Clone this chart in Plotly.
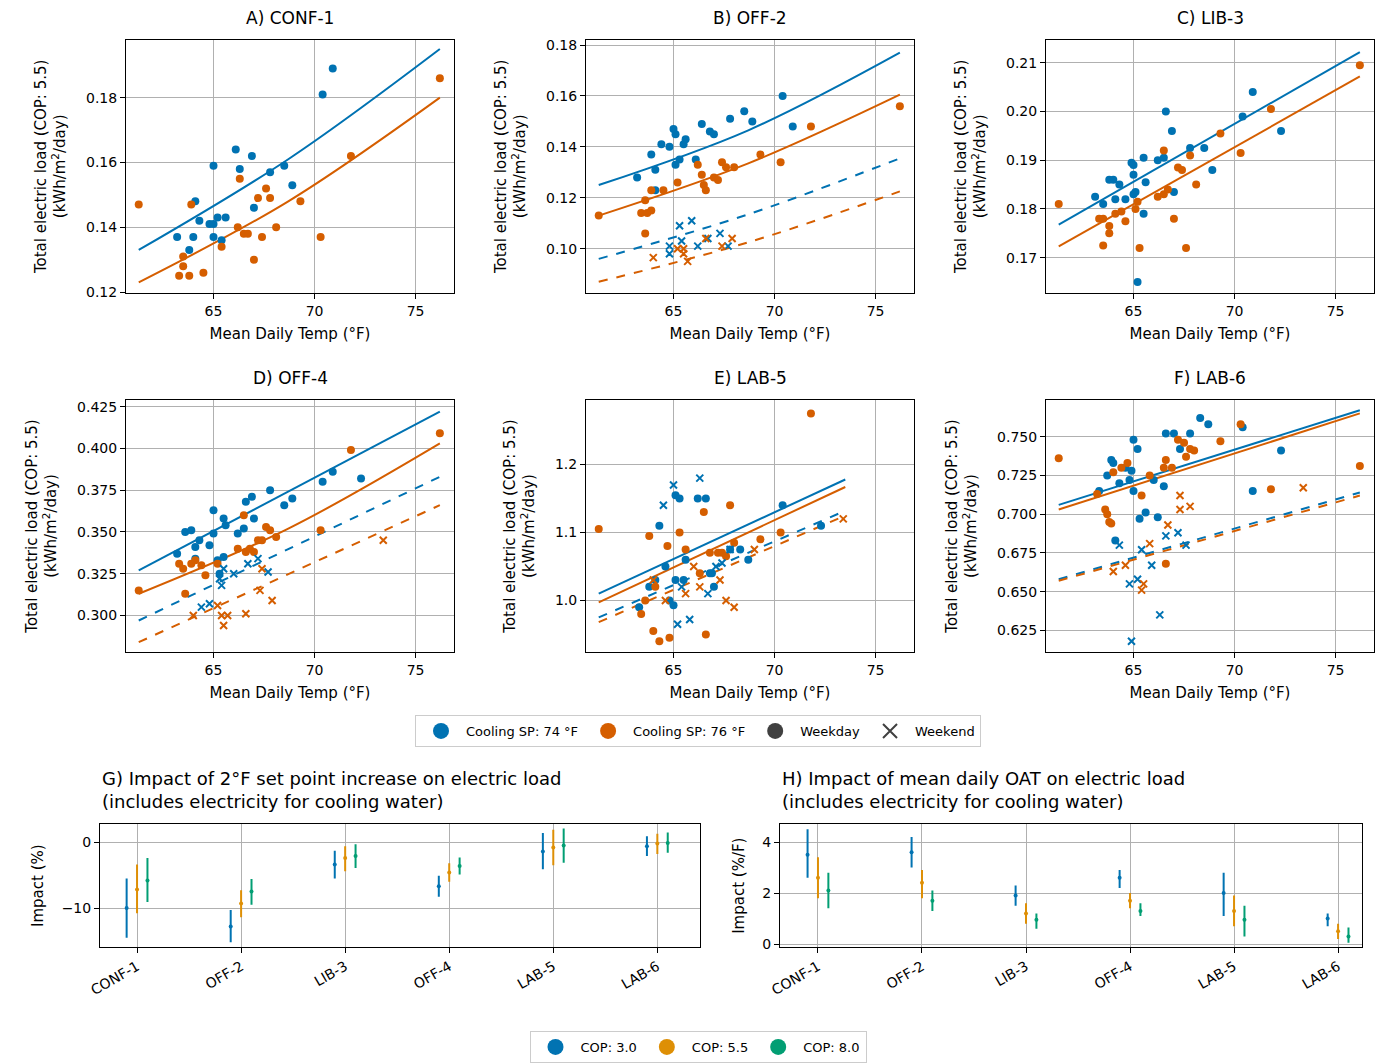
import plotly.graph_objects as go

W, H = 1384, 1063
BLUE, ORANGE = "#0072B2", "#D55E00"
COPC = ["#0173B2", "#DE8F05", "#029E73"]

# ---------------- data ----------------
A_b = [(63.2,0.137),(63.8,0.133),(64.0,0.137),(64.1,0.148),(64.3,0.142),(64.8,0.141),(65.0,0.141),(65.0,0.159),(65.0,0.137),(65.2,0.143),(65.4,0.136),(65.6,0.143),(66.1,0.164),(66.3,0.158),(66.9,0.162),(67.0,0.146),(67.8,0.157),(68.5,0.159),(68.9,0.153),(70.4,0.181),(70.9,0.189)]
A_o = [(61.3,0.147),(63.3,0.125),(63.5,0.128),(63.5,0.131),(63.9,0.147),(63.8,0.125),(64.5,0.126),(65.4,0.134),(66.2,0.140),(66.3,0.155),(66.5,0.138),(66.7,0.138),(67.0,0.130),(67.2,0.149),(67.4,0.137),(67.6,0.152),(67.8,0.149),(68.1,0.140),(69.3,0.148),(70.3,0.137),(71.8,0.162),(76.2,0.186)]
A_lines = {"b": [(61.3,0.133),(68.7,0.161),(76.2,0.195)], "o": [(61.3,0.123),(68.7,0.148),(76.2,0.180)]}

B_b = [(63.2,0.128),(63.9,0.137),(64.1,0.123),(64.4,0.141),(64.1,0.131),(64.8,0.140),(65.0,0.147),(65.1,0.145),(65.1,0.133),(65.3,0.135),(65.5,0.141),(65.6,0.143),(66.1,0.135),(66.4,0.149),(66.8,0.146),(67.0,0.145),(67.8,0.151),(68.5,0.154),(68.9,0.150),(70.4,0.160),(70.9,0.148)]
B_o = [(61.3,0.113),(63.4,0.114),(63.6,0.106),(63.7,0.114),(63.6,0.119),(63.9,0.115),(63.9,0.123),(64.5,0.123),(65.2,0.126),(66.2,0.133),(66.4,0.129),(66.5,0.125),(66.6,0.123),(67.0,0.128),(67.2,0.127),(67.4,0.134),(67.6,0.132),(68.0,0.132),(69.3,0.137),(70.3,0.134),(71.8,0.148),(76.2,0.156)]
B_bw = [(64.8,0.098),(64.8,0.101),(65.3,0.109),(65.4,0.103),(65.9,0.111),(66.2,0.101),(66.7,0.104),(67.3,0.106),(67.7,0.101)]
B_ow = [(64.0,0.0965),(65.2,0.100),(65.5,0.100),(65.5,0.098),(65.7,0.095),(66.6,0.104),(67.4,0.101),(67.9,0.104)]
B_lines = {"b": [(61.3,0.125),(68.7,0.1465),(76.2,0.177)], "o": [(61.3,0.113),(68.7,0.1335),(76.2,0.1605)], "bw": [(61.3,0.096),(68.7,0.1135),(76.2,0.1355)], "ow": [(61.3,0.087),(68.7,0.1025),(76.2,0.1225)]}

C_b = [(63.1,0.1825),(63.5,0.181),(63.8,0.186),(64.0,0.186),(64.1,0.182),(64.3,0.185),(64.6,0.182),(64.9,0.1895),(65.0,0.189),(65.0,0.187),(65.0,0.183),(65.1,0.1835),(65.2,0.165),(65.5,0.1905),(65.5,0.179),(65.6,0.1855),(66.2,0.190),(66.5,0.1905),(66.6,0.200),(66.9,0.196),(67.0,0.1835),(67.8,0.1925),(68.5,0.1925),(68.9,0.188),(70.4,0.199),(70.9,0.204),(72.3,0.196)]
C_o = [(61.3,0.181),(63.3,0.178),(63.5,0.1725),(63.5,0.178),(63.8,0.1765),(63.8,0.175),(64.1,0.179),(64.4,0.1795),(64.6,0.1775),(65.1,0.180),(65.2,0.1815),(65.3,0.172),(66.2,0.1825),(66.5,0.183),(66.5,0.192),(66.7,0.184),(67.0,0.178),(67.2,0.1885),(67.4,0.188),(67.6,0.172),(67.8,0.191),(68.1,0.185),(69.3,0.1955),(70.3,0.1915),(71.8,0.2005),(76.2,0.2095)]
C_lines = {"b": [(61.3,0.1768),(76.2,0.2122)], "o": [(61.3,0.1723),(76.2,0.2072)]}

D_b = [(63.2,0.337),(63.6,0.350),(63.9,0.351),(64.1,0.341),(64.1,0.334),(64.3,0.345),(64.8,0.342),(65.0,0.349),(65.0,0.363),(65.2,0.333),(65.3,0.325),(65.5,0.335),(65.5,0.358),(65.6,0.354),(66.2,0.349),(66.5,0.352),(66.6,0.368),(66.9,0.371),(67.0,0.358),(67.8,0.375),(68.5,0.366),(68.9,0.370),(70.4,0.380),(70.9,0.386),(72.3,0.382)]
D_o = [(61.3,0.315),(63.3,0.331),(63.6,0.313),(63.5,0.328),(63.9,0.331),(64.1,0.333),(64.6,0.324),(64.4,0.330),(65.2,0.331),(66.2,0.340),(66.5,0.360),(66.6,0.338),(66.8,0.340),(67.0,0.338),(67.2,0.345),(67.4,0.345),(67.6,0.353),(67.8,0.351),(68.1,0.347),(70.3,0.351),(71.8,0.399),(76.2,0.409)]
D_bw = [(64.4,0.305),(64.8,0.307),(65.3,0.322),(65.4,0.318),(65.5,0.328),(66.0,0.325),(66.7,0.331),(67.2,0.334),(67.7,0.326)]
D_ow = [(64.0,0.300),(65.2,0.306),(65.4,0.300),(65.5,0.294),(65.7,0.300),(66.6,0.301),(67.3,0.315),(67.4,0.328),(67.9,0.309),(73.4,0.345)]
D_lines = {"b": [(61.3,0.327),(76.2,0.422)], "o": [(61.3,0.313),(68.7,0.352),(76.2,0.403)], "bw": [(61.3,0.297),(76.2,0.383)], "ow": [(61.3,0.284),(76.2,0.366)]}

E_b = [(63.3,0.990),(63.8,1.02),(64.1,1.03),(64.3,1.11),(64.6,1.05),(64.8,1.0),(65.0,0.993),(65.1,1.03),(65.1,1.155),(65.3,1.15),(65.5,1.03),(65.6,1.06),(66.2,1.15),(66.6,1.15),(66.8,1.04),(66.9,1.04),(67.0,1.02),(67.8,1.075),(68.3,1.075),(68.7,1.06),(70.4,1.14),(72.3,1.11)]
E_o = [(61.3,1.105),(63.4,0.98),(63.6,1.00),(63.8,1.095),(64.0,0.955),(64.1,1.02),(64.3,0.940),(64.7,1.08),(64.8,0.945),(65.3,1.10),(65.6,1.075),(66.3,1.04),(66.5,1.13),(66.6,0.950),(66.8,1.07),(67.2,1.07),(67.4,1.07),(67.6,1.065),(67.8,1.14),(68.0,1.085),(69.3,1.09),(70.3,1.10),(71.8,1.275)]
E_bw = [(64.5,1.14),(65.0,1.17),(65.2,0.965),(65.4,1.02),(65.8,0.972),(66.3,1.18),(66.7,1.01),(67.1,1.05),(67.4,1.055),(67.8,1.075)]
E_ow = [(64.0,1.03),(64.6,1.0),(65.6,1.01),(66.0,1.05),(66.3,1.02),(67.3,1.03),(67.6,1.0),(68.0,0.99),(69.0,1.075),(73.4,1.12)]
E_lines = {"b": [(61.3,1.01),(73.5,1.178)], "o": [(61.3,0.997),(73.5,1.167)], "bw": [(61.3,0.975),(73.5,1.132)], "ow": [(61.3,0.968),(73.5,1.125)]}

F_b = [(63.3,0.715),(63.7,0.725),(63.9,0.735),(64.0,0.733),(64.1,0.683),(64.3,0.720),(64.6,0.730),(64.8,0.722),(64.9,0.728),(65.0,0.748),(65.0,0.715),(65.2,0.742),(65.3,0.697),(65.6,0.701),(66.0,0.722),(66.2,0.698),(66.5,0.718),(66.6,0.752),(67.0,0.752),(67.3,0.742),(67.8,0.752),(68.3,0.762),(68.7,0.758),(70.4,0.756),(70.9,0.715),(72.3,0.741)]
F_o = [(61.3,0.736),(63.2,0.713),(63.6,0.703),(63.7,0.700),(63.8,0.695),(63.9,0.694),(64.0,0.727),(64.4,0.730),(64.7,0.733),(65.4,0.712),(65.8,0.725),(66.5,0.730),(66.6,0.668),(66.6,0.735),(66.9,0.730),(67.2,0.748),(67.5,0.746),(67.6,0.737),(67.8,0.742),(68.0,0.741),(69.3,0.747),(70.3,0.758),(71.8,0.716),(76.2,0.731)]
F_bw = [(64.3,0.680),(64.8,0.655),(64.9,0.618),(65.2,0.658),(65.4,0.677),(65.9,0.667),(66.3,0.635),(66.6,0.686),(67.2,0.688),(67.6,0.680)]
F_ow = [(64.0,0.663),(64.6,0.667),(65.4,0.651),(65.5,0.655),(65.8,0.681),(66.7,0.693),(67.3,0.712),(67.3,0.703),(67.8,0.705),(73.4,0.717)]
F_lines = {"b": [(61.3,0.706),(76.2,0.767)], "o": [(61.3,0.703),(76.2,0.765)], "bw": [(61.3,0.658),(76.2,0.714)], "ow": [(61.3,0.657),(76.2,0.712)]}

buildings = ["CONF-1", "OFF-2", "LIB-3", "OFF-4", "LAB-5", "LAB-6"]
cop_labels = ["COP: 3.0", "COP: 5.5", "COP: 8.0"]
G_vals = [
    [(-10,-14.5,-5.5),(-12.8,-15.2,-10.3),(-3.4,-5.5,-1.3),(-6.7,-8.3,-5.1),(-1.4,-4.1,1.4),(-0.6,-2.1,0.9)],
    [(-7.2,-10.8,-3.4),(-9.3,-11.4,-7.3),(-2.4,-4.4,-0.6),(-4.6,-6.0,-3.2),(-0.8,-3.5,1.9),(-0.2,-1.8,1.3)],
    [(-5.8,-9.1,-2.4),(-7.5,-9.5,-5.6),(-2.1,-3.9,-0.3),(-3.6,-4.9,-2.3),(-0.5,-3.1,2.1),(-0.1,-1.6,1.5)],
]
H_vals = [
    [(3.5,2.6,4.5),(3.6,3.0,4.2),(1.9,1.5,2.3),(2.6,2.2,2.9),(2.0,1.1,2.8),(1.0,0.7,1.2)],
    [(2.6,1.8,3.4),(2.4,1.8,2.9),(1.2,0.8,1.6),(1.7,1.4,2.0),(1.3,0.7,1.9),(0.5,0.2,0.8)],
    [(2.1,1.4,2.8),(1.7,1.3,2.1),(0.95,0.6,1.2),(1.3,1.1,1.6),(0.95,0.3,1.5),(0.3,0.05,0.65)],
]

panels = [
    ("A) CONF-1", A_b, A_o, None, None, A_lines, [0.1198,0.1978], [0.12,0.14,0.16,0.18], ".2f"),
    ("B) OFF-2", B_b, B_o, B_bw, B_ow, B_lines, [0.0827,0.182], [0.10,0.12,0.14,0.16,0.18], ".2f"),
    ("C) LIB-3", C_b, C_o, None, None, C_lines, [0.1628,0.2147], [0.17,0.18,0.19,0.20,0.21], ".2f"),
    ("D) OFF-4", D_b, D_o, D_bw, D_ow, D_lines, [0.2779,0.4292], [0.300,0.325,0.350,0.375,0.400,0.425], ".3f"),
    ("E) LAB-5", E_b, E_o, E_bw, E_ow, E_lines, [0.9235,1.2956], [1.0,1.1,1.2], ".1f"),
    ("F) LAB-6", F_b, F_o, F_bw, F_ow, F_lines, [0.6108,0.7739], [0.625,0.650,0.675,0.700,0.725,0.750], ".3f"),
]

def xd(a, b): return [a / W, b / W]
def yd(t, b): return [1 - b / H, 1 - t / H]

fig = go.Figure()
layout = {}
annotations = []
axfont = dict(family="DejaVu Sans", size=14, color="black")
base_ax = dict(showline=True, mirror=True, linecolor="black", linewidth=1, ticks="outside",
               ticklen=5, tickcolor="black", showgrid=True, gridcolor="#b0b0b0", gridwidth=1,
               zeroline=False, tickfont=axfont, automargin=False)

xpos = [(126, 454), (586, 914), (1046, 1374)]
ypos = [(40, 293), (400, 653)]

for i, (title, pb, po, pbw, pow_, lines, yr, yt, fmt) in enumerate(panels):
    n = i + 1
    xs = "x" if n == 1 else f"x{n}"
    ys = "y" if n == 1 else f"y{n}"
    r, c = divmod(i, 3)
    xa, xb = xpos[c]
    yt0, yb0 = ypos[r]
    layout["xaxis" if n == 1 else f"xaxis{n}"] = dict(base_ax, domain=xd(xa, xb), anchor=ys,
        range=[60.67, 76.9], tickvals=[65, 70, 75],
        title=dict(text="Mean Daily Temp (°F)", font=dict(family="DejaVu Sans", size=15), standoff=10))
    layout["yaxis" if n == 1 else f"yaxis{n}"] = dict(base_ax, domain=yd(yt0, yb0), anchor=xs,
        range=yr, tickvals=yt, tickformat=fmt,
        title=dict(text="Total electric load (COP: 5.5)<br>(kWh/m<sup>2</sup>/day)",
                   font=dict(family="DejaVu Sans", size=15), standoff=16))
    annotations.append(dict(text=title, x=(xa + xb) / 2 / W, y=1 - (yt0 - 22) / H, xref="paper",
                            yref="paper", xanchor="center", yanchor="middle", showarrow=False,
                            font=dict(family="DejaVu Sans", size=17)))
    for key, col, dash in [("b", BLUE, "solid"), ("o", ORANGE, "solid"), ("bw", BLUE, "dash"), ("ow", ORANGE, "dash")]:
        if key in lines:
            fig.add_trace(go.Scatter(x=[p[0] for p in lines[key]], y=[p[1] for p in lines[key]], mode="lines",
                                     line=dict(color=col, width=2, dash=dash, shape="spline"), showlegend=False, xaxis=xs, yaxis=ys))
    for pts, col, sym in [(pb, BLUE, "circle"), (po, ORANGE, "circle"), (pbw, BLUE, "x-thin"), (pow_, ORANGE, "x-thin")]:
        if pts:
            mk = dict(color=col, size=8) if sym == "circle" else dict(color=col, size=7, symbol="x-thin", line=dict(color=col, width=2))
            fig.add_trace(go.Scatter(x=[p[0] for p in pts], y=[p[1] for p in pts], mode="markers",
                                     marker=mk, showlegend=False, xaxis=xs, yaxis=ys))

for name, mk in [("Cooling SP: 74 °F", dict(color=BLUE, size=16)), ("Cooling SP: 76 °F", dict(color=ORANGE, size=16)),
                 ("Weekday", dict(color="#404040", size=16)),
                 ("Weekend", dict(color="#404040", size=14, symbol="x-thin", line=dict(color="#404040", width=2)))]:
    fig.add_trace(go.Scatter(x=[None], y=[None], mode="markers", marker=mk, name=name, legend="legend", xaxis="x", yaxis="y"))

offs = [-0.1, 0.0, 0.1]
for n, vals, (xa, xb), xr, yr, yt, ytitle, ttl in [
    (7, G_vals, (100, 700), [-0.356, 5.41], [-15.94, 2.74], [-10, 0], "Impact (%)",
     "G) Impact of 2°F set point increase on electric load<br>(includes electricity for cooling water)"),
    (8, H_vals, (780, 1362), [-0.365, 5.23], [-0.12, 4.7], [0, 2, 4], "Impact (%/F)",
     "H) Impact of mean daily OAT on electric load<br>(includes electricity for cooling water)")]:
    xs, ys = f"x{n}", f"y{n}"
    layout[f"xaxis{n}"] = dict(base_ax, domain=xd(xa, xb), anchor=ys, range=xr, tickvals=list(range(6)),
                               ticktext=buildings, tickangle=-30)
    layout[f"yaxis{n}"] = dict(base_ax, domain=yd(825, 948), anchor=xs, range=yr, tickvals=yt,
                               title=dict(text=ytitle, font=dict(family="DejaVu Sans", size=15), standoff=14))
    annotations.append(dict(text=ttl, x=xa / W, y=1 - 767 / H, xref="paper", yref="paper", xanchor="left",
                            yanchor="top", align="left", showarrow=False, font=dict(family="DejaVu Sans", size=18)))
    for k in range(3):
        cen = [v[0] for v in vals[k]]
        fig.add_trace(go.Scatter(
            x=[j + offs[k] for j in range(6)], y=cen, mode="markers",
            marker=dict(color=COPC[k], size=4),
            error_y=dict(type="data", symmetric=False, array=[v[2] - v[0] for v in vals[k]],
                         arrayminus=[v[0] - v[1] for v in vals[k]], color=COPC[k], thickness=2, width=0),
            showlegend=False, xaxis=xs, yaxis=ys))

for k in range(3):
    fig.add_trace(go.Scatter(x=[None], y=[None], mode="markers", marker=dict(color=COPC[k], size=16),
                             name=cop_labels[k], legend="legend2", xaxis="x7", yaxis="y7"))

fig.update_layout(
    width=W, height=H, margin=dict(l=0, r=0, t=0, b=0), autosize=False,
    plot_bgcolor="white", paper_bgcolor="white", font=dict(family="DejaVu Sans", color="black"),
    annotations=annotations,
    legend=dict(orientation="h", x=698 / W, y=1 - 731 / H, xanchor="center", yanchor="middle",
                bordercolor="#cccccc", borderwidth=1, font=dict(size=13), itemwidth=40),
    legend2=dict(orientation="h", x=698 / W, y=1 - 1048 / H, xanchor="center", yanchor="middle",
                 bordercolor="#cccccc", borderwidth=1, font=dict(size=13), itemwidth=40),
    **layout)

fig.write_html("out.html", config={"displayModeBar": False})
with open("out.html", encoding="utf-8") as f:
    html = f.read()
html = html.replace("<body>", '<body style="margin:0;padding:0;overflow:hidden">', 1)
with open("out.html", "w", encoding="utf-8") as f:
    f.write(html)
